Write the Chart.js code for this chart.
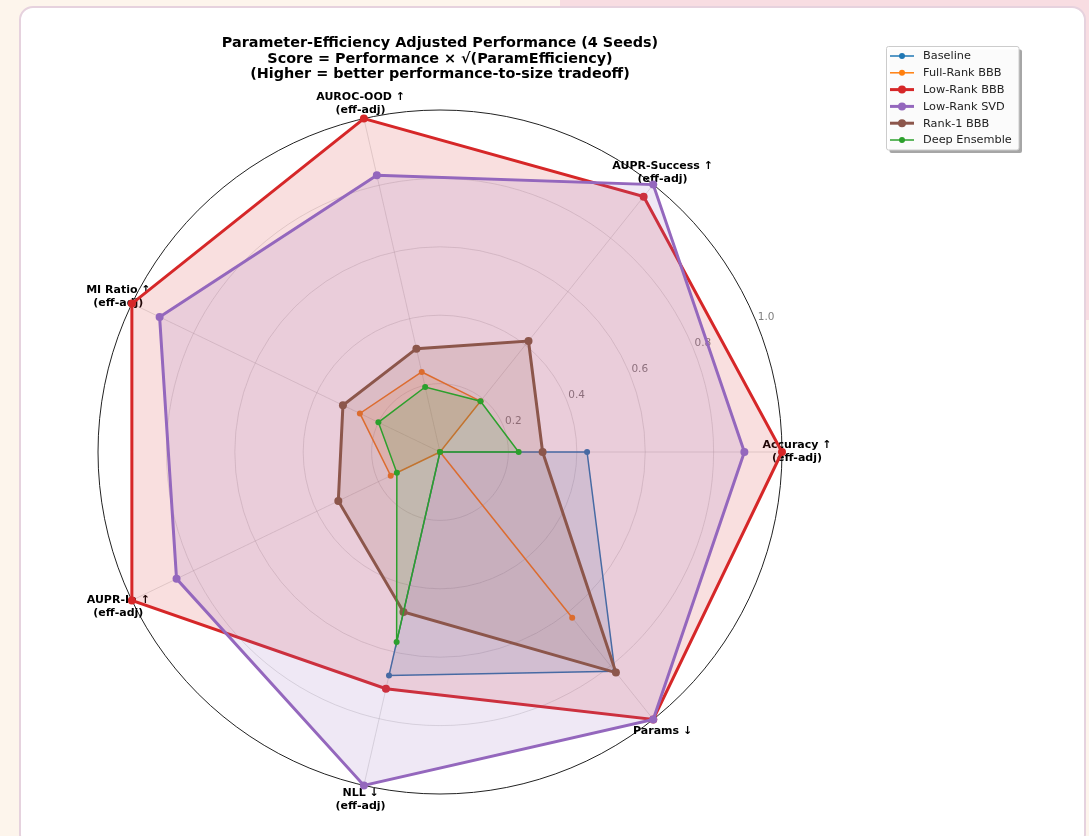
<!DOCTYPE html>
<html>
<head>
<meta charset="utf-8">
<script src="https://cdn.jsdelivr.net/npm/chart.js@4.4.1/dist/chart.umd.min.js"></script>
<style>
  html, body { margin: 0; padding: 0; }
  body { width: 1089px; height: 836px; overflow: hidden; position: relative; background: #fdf5ec; }
  #tint { position: absolute; left: 560px; top: 0; right: 0; height: 320px; background: #f8dde2; }
  #card { position: absolute; left: 19px; top: 6px; width: 1067px; height: 842px; background: #fff;
          border: 2px solid #e6d2de; border-radius: 14px; box-sizing: border-box; }
  #c { position: absolute; left: 0; top: 0; }
</style>
</head>
<body>
<div id="tint"></div>
<div id="card"></div>
<canvas id="c" width="1089" height="836"></canvas>
<script>
// Axes, listed clockwise starting from the right-hand spoke
const axisLabels = [
  ["Accuracy ↑", "(eff-adj)"],
  ["Params ↓"],
  ["NLL ↓", "(eff-adj)"],
  ["AUPR-In ↑", "(eff-adj)"],
  ["MI Ratio ↑", "(eff-adj)"],
  ["AUROC-OOD ↑", "(eff-adj)"],
  ["AUPR-Success ↑", "(eff-adj)"]
];
const radialTicks = [0.2, 0.4, 0.6, 0.8, 1.0];

const titleLines = [
  "Parameter-Efficiency Adjusted Performance (4 Seeds)",
  "Score = Performance × √(ParamEfficiency)",
  "(Higher = better performance-to-size tradeoff)"
];

const seriesNames = ["Baseline", "Full-Rank BBB", "Low-Rank BBB", "Low-Rank SVD", "Rank-1 BBB", "Deep Ensemble"];

// Efficiency-adjusted scores, same axis order as axisLabels
const baseline     = [0.43, 0.82, 0.67, 0.00, 0.00, 0.00, 0.00];
const fullRankBBB  = [0.00, 0.62, 0.00, 0.16, 0.26, 0.24, 0.19];
const lowRankBBB   = [1.00, 1.00, 0.71, 1.00, 1.00, 1.00, 0.955];
const lowRankSVD   = [0.89, 1.00, 1.00, 0.855, 0.91, 0.83, 1.00];
const rank1BBB     = [0.30, 0.825, 0.48, 0.33, 0.315, 0.31, 0.415];
const deepEnsemble = [0.23, 0.00, 0.57, 0.14, 0.20, 0.195, 0.19];

const seriesValues = [baseline, fullRankBBB, lowRankBBB, lowRankSVD, rank1BBB, deepEnsemble];
const seriesColors = ["#1f77b4", "#ff7f0e", "#d62728", "#9467bd", "#8c564b", "#2ca02c"];
const thickSeries  = [false, false, true, true, true, false];

function rgba(hex, a) {
  const n = parseInt(hex.slice(1), 16);
  return `rgba(${(n >> 16) & 255},${(n >> 8) & 255},${n & 255},${a})`;
}

const datasets = seriesNames.map((name, i) => ({
  label: name,
  data: seriesValues[i],
  borderColor: seriesColors[i],
  backgroundColor: rgba(seriesColors[i], 0.15),
  borderWidth: thickSeries[i] ? 3 : 1.5,
  pointRadius: thickSeries[i] ? 4 : 3,
  pointBackgroundColor: seriesColors[i],
  pointBorderColor: seriesColors[i],
  pointBorderWidth: 0,
  fill: true,
  tension: 0,
  order: seriesNames.length - i   // later series drawn on top
}));

const FONT = '"DejaVu Sans", "Liberation Sans", sans-serif';

const decorations = {
  id: 'decorations',
  beforeDatasetsDraw(chart) {
    const ctx = chart.ctx;
    const r = chart.scales.r;
    ctx.save();
    // radial tick labels along a 22.5° ray
    const a = -22.5 * Math.PI / 180;
    ctx.font = `10.5px ${FONT}`;
    ctx.fillStyle = 'rgba(105,105,105,0.85)';
    ctx.textAlign = 'center';
    ctx.textBaseline = 'middle';
    radialTicks.forEach(v => {
      const d = r.getDistanceFromCenterForValue(v) + 11;
      ctx.fillText(v.toFixed(1), r.xCenter + d * Math.cos(a), r.yCenter + d * Math.sin(a));
    });
    // spoke labels
    ctx.font = `bold 11px ${FONT}`;
    ctx.fillStyle = '#000';
    const dist = r.getDistanceFromCenterForValue(1.0) + 15;
    axisLabels.forEach((lines, i) => {
      const p = r.getPointPosition(i, dist);
      const lh = 13;
      const y0 = p.y - (lines.length - 1) * lh / 2;
      lines.forEach((t, k) => ctx.fillText(t, p.x, y0 + k * lh));
    });
    ctx.restore();
  },
  afterDraw(chart) {
    const ctx = chart.ctx;
    ctx.save();
    // title
    ctx.font = `bold 14.4px ${FONT}`;
    ctx.fillStyle = '#000';
    ctx.textAlign = 'center';
    ctx.textBaseline = 'middle';
    titleLines.forEach((t, k) => ctx.fillText(t, 440, 43.5 + k * 15.5));

    // legend
    const bx = 886.5, by = 46.5, bw = 132.5, bh = 103.5;
    ctx.fillStyle = 'rgba(0,0,0,0.35)';
    ctx.beginPath(); ctx.roundRect(bx + 3, by + 3, bw, bh, 2); ctx.fill();
    ctx.fillStyle = 'rgba(255,255,255,0.95)';
    ctx.strokeStyle = '#cccccc';
    ctx.lineWidth = 1;
    ctx.beginPath(); ctx.roundRect(bx, by, bw, bh, 2); ctx.fill(); ctx.stroke();
    ctx.font = `11.3px ${FONT}`;
    ctx.textAlign = 'left';
    chart.data.datasets.forEach((ds, i) => {
      const y = 56 + i * 16.8;
      ctx.strokeStyle = ds.borderColor;
      ctx.lineWidth = ds.borderWidth;
      ctx.beginPath(); ctx.moveTo(890, y); ctx.lineTo(914, y); ctx.stroke();
      ctx.fillStyle = ds.borderColor;
      ctx.beginPath(); ctx.arc(902, y, ds.pointRadius, 0, Math.PI * 2); ctx.fill();
      ctx.fillStyle = '#222';
      ctx.fillText(ds.label, 923, y + 0.5);
    });
    ctx.restore();
  }
};

new Chart(document.getElementById('c'), {
  type: 'radar',
  data: { labels: axisLabels.map(l => l.join(' ')), datasets },
  options: {
    responsive: false,
    animation: false,
    events: [],
    layout: { padding: { left: 98, right: 307, top: 110, bottom: 42 } },
    plugins: { legend: { display: false }, title: { display: false }, tooltip: { enabled: false } },
    elements: { line: { tension: 0 } },
    scales: {
      r: {
        min: 0,
        max: 1.0,
        startAngle: 90,
        ticks: { stepSize: 0.2, display: false },
        pointLabels: { display: false },
        grid: {
          circular: true,
          color: c => (c.tick && Math.abs(c.tick.value - 1) < 1e-9) ? '#222' : 'rgba(170,170,170,0.45)',
          lineWidth: c => (c.tick && Math.abs(c.tick.value - 1) < 1e-9) ? 1 : 0.8
        },
        angleLines: { color: 'rgba(170,170,170,0.45)', lineWidth: 0.8 }
      }
    }
  },
  plugins: [decorations]
});
</script>
</body>
</html>
